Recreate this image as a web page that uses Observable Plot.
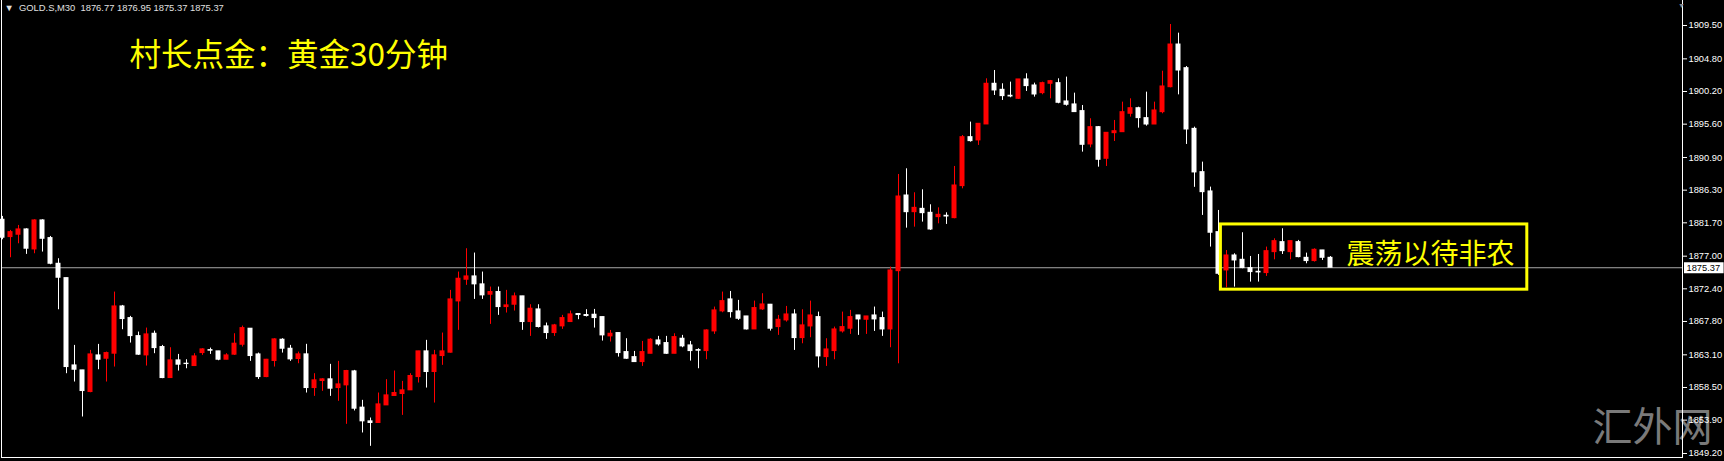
<!DOCTYPE html>
<html>
<head>
<meta charset="utf-8">
<script src="https://cdn.jsdelivr.net/npm/d3@7"></script>
<script src="https://cdn.jsdelivr.net/npm/@observablehq/plot@0.6"></script>
<style>
  html, body { margin: 0; padding: 0; background: #000; }
  #chart { width: 1724px; height: 461px; overflow: hidden; }
  svg { display: block; }
</style>
</head>
<body>
<div id="chart"></div>
<script>
// ---- data: GOLD.S M30 candles (OHLC) ----
const open = [
1882.13,1879.69,1880.02,1880.77,1877.95,1882.04,1879.55,1875.93,1873.91,1861.61,
1860.91,1857.86,1863.02,1862.55,1863.26,1869.92,1868.28,1865.74,1863.02,1866.07,
1864.20,1859.83,1862.32,1861.85,1861.52,1863.35,1863.77,1863.59,1862.41,1863.12,
1864.52,1866.78,1863.16,1859.97,1862.23,1865.23,1863.96,1862.51,1863.17,1858.42,
1859.41,1859.65,1858.42,1858.80,1860.77,1855.66,1853.73,1853.50,1855.98,1857.30,
1857.58,1858.10,1859.97,1863.59,1860.68,1862.93,1863.40,1870.63,1873.68,1874.15,
1873.03,1871.57,1871.95,1869.83,1870.16,1871.34,1867.72,1869.50,1867.11,1866.17,
1867.11,1867.72,1868.85,1868.71,1868.75,1868.42,1865.70,1866.17,1863.49,1862.78,
1862.08,1863.25,1865.13,1864.76,1863.25,1865.37,1864.43,1863.77,1863.63,1866.40,
1869.22,1870.91,1869.22,1868.51,1866.68,1869.50,1870.16,1867.01,1867.95,1868.79,
1865.46,1867.10,1868.42,1862.78,1863.63,1866.40,1866.78,1868.65,1868.04,1868.65,
1868.28,1866.68,1874.89,1885.55,1883.20,1883.67,1883.11,1882.50,1882.69,1882.36,
1886.87,1893.77,1893.31,1895.56,1901.29,1900.44,1899.60,1899.17,1901.90,1901.05,
1899.97,1901.29,1901.38,1898.80,1898.38,1897.44,1892.74,1895.18,1890.72,1894.33,
1894.47,1897.06,1897.85,1896.45,1895.55,1897.29,1900.81,1906.82,1903.49,1894.94,
1888.84,1886.12,1880.39,1874.99,1877.10,1876.49,1875.32,1874.80,1874.62,1877.57,
1878.98,1877.57,1878.98,1876.77,1876.31,1877.81,1876.77
];
const high = [
1882.60,1880.63,1881.33,1880.86,1882.13,1882.13,1879.78,1876.64,1873.91,1864.43,
1860.91,1863.73,1864.57,1863.49,1871.94,1870.06,1868.52,1866.31,1866.87,1866.45,
1864.43,1864.10,1863.16,1862.41,1863.26,1863.96,1864.05,1863.59,1863.26,1866.07,
1867.15,1866.78,1863.35,1862.46,1865.37,1865.37,1864.43,1863.49,1864.58,1860.44,
1859.74,1861.76,1862.18,1860.91,1860.91,1856.69,1854.20,1857.72,1859.60,1860.82,
1859.36,1860.44,1863.59,1865.14,1863.73,1866.17,1872.18,1874.76,1878.05,1877.44,
1874.76,1872.65,1872.65,1872.18,1871.81,1871.34,1870.16,1870.16,1867.58,1867.39,
1868.66,1869.27,1868.85,1869.46,1869.50,1868.42,1866.54,1866.17,1865.37,1863.58,
1864.99,1865.37,1865.70,1865.70,1866.07,1865.84,1864.99,1863.96,1866.63,1869.83,
1871.94,1872.03,1870.77,1868.51,1870.67,1871.71,1870.20,1868.65,1869.92,1869.45,
1869.45,1870.67,1869.12,1865.37,1867.01,1869.12,1869.36,1868.65,1868.51,1869.83,
1869.12,1875.46,1888.51,1889.31,1885.93,1886.35,1884.24,1883.81,1883.11,1889.64,
1894.00,1895.89,1895.65,1901.99,1903.16,1901.29,1901.52,1901.90,1902.70,1901.38,
1901.52,1901.76,1901.99,1902.23,1899.97,1898.23,1896.36,1895.27,1894.38,1896.12,
1898.70,1899.17,1897.99,1900.11,1898.70,1903.06,1909.64,1908.42,1903.72,1895.18,
1890.25,1886.73,1883.44,1877.80,1877.34,1880.30,1876.96,1877.24,1878.28,1879.45,
1880.86,1879.12,1879.22,1877.43,1878.04,1877.81,1876.95
];
const low = [
1879.31,1876.78,1878.75,1877.25,1877.34,1877.58,1875.79,1869.45,1860.44,1859.27,
1854.34,1857.76,1861.00,1859.27,1861.38,1866.64,1864.76,1863.02,1861.52,1863.26,
1859.74,1859.83,1860.82,1861.14,1861.52,1863.02,1863.16,1862.27,1862.41,1863.02,
1864.20,1862.18,1859.64,1859.88,1861.38,1863.35,1862.18,1861.85,1857.72,1857.25,
1857.96,1857.25,1856.55,1853.31,1855.19,1852.09,1850.21,1853.50,1855.98,1857.30,
1854.57,1858.10,1859.13,1858.42,1856.31,1861.62,1863.35,1866.55,1872.89,1870.91,
1870.91,1867.39,1868.66,1868.99,1869.27,1866.55,1865.70,1866.88,1865.28,1865.70,
1866.69,1867.72,1868.05,1868.43,1866.87,1865.04,1864.90,1862.78,1862.46,1862.08,
1861.47,1863.25,1864.33,1863.16,1863.25,1864.10,1862.22,1861.14,1862.41,1865.98,
1869.03,1868.28,1867.95,1866.60,1866.68,1869.36,1866.45,1865.84,1867.71,1863.72,
1864.66,1865.51,1861.24,1861.47,1862.41,1866.17,1865.98,1865.84,1865.98,1866.40,
1865.70,1864.10,1861.84,1880.95,1881.09,1881.80,1880.62,1881.56,1881.47,1882.27,
1886.49,1893.07,1892.60,1895.56,1899.64,1898.94,1899.32,1899.08,1900.21,1899.41,
1899.74,1899.17,1898.47,1898.14,1897.30,1891.66,1892.27,1889.54,1889.64,1893.16,
1894.47,1896.59,1895.04,1895.32,1895.55,1897.06,1900.72,1899.73,1892.74,1886.70,
1882.74,1878.28,1874.29,1872.55,1872.64,1875.23,1873.35,1873.35,1874.15,1876.49,
1877.24,1876.49,1876.77,1875.93,1876.17,1876.40,1875.37
];
const close = [
1879.60,1880.39,1880.77,1878.05,1882.04,1879.45,1875.93,1873.96,1861.38,1861.00,
1858.00,1863.16,1862.41,1863.35,1869.92,1868.14,1865.74,1863.12,1865.98,1864.05,
1859.83,1862.32,1861.71,1861.80,1862.88,1863.87,1863.68,1862.41,1863.02,1864.67,
1866.87,1862.93,1859.97,1862.41,1865.28,1863.96,1862.46,1863.17,1858.42,1859.51,
1859.65,1858.33,1858.94,1860.82,1855.51,1853.73,1853.50,1856.12,1857.39,1857.72,
1858.10,1860.12,1863.59,1860.68,1863.03,1863.59,1870.91,1873.82,1874.15,1873.03,
1871.48,1871.95,1869.83,1870.07,1871.34,1867.72,1869.60,1867.02,1866.17,1867.25,
1868.28,1868.80,1868.71,1868.57,1868.28,1865.84,1866.07,1863.35,1862.55,1862.08,
1863.49,1865.23,1864.57,1863.25,1865.60,1864.29,1863.63,1863.68,1866.54,1869.36,
1870.67,1869.12,1868.18,1866.68,1869.69,1870.20,1866.78,1868.04,1868.79,1865.46,
1867.25,1868.65,1862.88,1863.86,1866.68,1867.01,1868.42,1868.09,1868.51,1868.09,
1866.68,1874.99,1885.41,1883.20,1883.81,1883.06,1880.76,1882.83,1882.59,1886.96,
1893.77,1893.21,1895.65,1901.29,1900.35,1899.55,1899.50,1901.90,1900.96,1899.78,
1901.38,1901.66,1898.61,1898.33,1897.30,1892.69,1895.18,1890.58,1894.38,1894.61,
1897.29,1897.85,1896.45,1895.55,1897.53,1900.91,1906.82,1903.16,1894.85,1888.80,
1886.02,1880.30,1874.52,1877.10,1876.40,1875.32,1874.76,1874.71,1877.71,1879.12,
1877.71,1879.12,1876.87,1876.31,1877.90,1876.77,1875.37
];

// price-axis tick labels (MT4 style)
const priceTicks = [1909.50,1904.80,1900.20,1895.60,1890.90,1886.30,1881.70,
                    1877.00,1872.40,1867.80,1863.10,1858.50,1853.90,1849.20];

// texts
const symbolName = "GOLD.S,M30";
const titleText = "村长点金：黄金30分钟";
const noteText = "震荡以待非农";
const watermark = "汇外网";

// annotation box (candle index range, price range)
const boxIndex = [152.3, 190.6];
const boxPrice = [1872.28, 1881.47];
const notePos = {index: 168, price: 1877.2};

// ---- build ----
const candles = open.map((o, i) => ({
  i, open: o, high: high[i], low: low[i], close: close[i],
  col: close[i] > o ? "#ff0000" : "#ffffff"
}));
const n = candles.length;
const last = candles[n - 1];
const bid = last.close;
const headerText = `▼  ${symbolName}  ${last.open.toFixed(2)} ${last.high.toFixed(2)} ${last.low.toFixed(2)} ${last.close.toFixed(2)}`;

const YELLOW = "#ffff00";
const half = 0.3125;
const AXIS_FONT = 9.3;

const chart = Plot.plot({
  width: 1724,
  height: 461,
  marginLeft: 1,
  marginRight: 42,
  marginTop: 0,
  marginBottom: 4,
  style: {background: "#000", color: "#fff", fontFamily: "'Liberation Sans', 'DejaVu Sans', sans-serif"},
  x: {domain: [-0.125, 210], axis: null},
  y: {domain: [1848.636, 1913.022], axis: null},
  color: {type: "identity"},
  marks: [
    // current bid line
    Plot.ruleY([bid], {stroke: "#a8a8a8", strokeWidth: 1}),
    // wicks
    Plot.ruleX(candles, {x: "i", y1: "low", y2: "high", stroke: "col", strokeWidth: 1}),
    // bodies
    Plot.rect(candles, {
      x1: d => d.i - half, x2: d => d.i + half,
      y1: d => Math.min(d.open, d.close), y2: d => Math.max(d.open, d.close),
      fill: "col", insetTop: -0.5, insetBottom: -0.5
    }),
    // annotation box + note
    Plot.rect([0], {x1: () => boxIndex[0], x2: () => boxIndex[1], y1: () => boxPrice[0], y2: () => boxPrice[1],
      fill: "none", stroke: YELLOW, strokeWidth: 3}),
    Plot.text([noteText], {x: () => notePos.index, y: () => notePos.price, text: d => d,
      textAnchor: "start", lineAnchor: "middle", fill: YELLOW, fontSize: 28,
      fontFamily: "'Noto Sans CJK SC', sans-serif"}),
    // watermark (behind axis labels)
    Plot.text([watermark], {frameAnchor: "bottom-right", dx: -30, dy: -29, textAnchor: "middle", lineAnchor: "middle",
      fill: "#7a7a7a", fontSize: 40, letterSpacing: 2,
      fontFamily: "'Noto Sans CJK SC', sans-serif"}),
    // frame lines
    Plot.frame({anchor: "left", stroke: "#fff"}),
    Plot.frame({anchor: "right", stroke: "#fff"}),
    Plot.frame({anchor: "bottom", stroke: "#fff"}),
    // price axis
    Plot.axisY(priceTicks, {anchor: "right", tickSize: 4, tickPadding: 2, fontSize: AXIS_FONT,
      tickFormat: d => d.toFixed(2), stroke: "#fff", fill: "#fff"}),
    // current price tag
    Plot.ruleY([bid], {x1: 210.25, x2: 215.2, stroke: "#fff", strokeWidth: 11}),
    Plot.text([bid], {x: 210.5, y: d => d, text: d => d.toFixed(2), textAnchor: "start",
      fill: "#000", fontSize: AXIS_FONT}),
    // header
    Plot.text([headerText], {frameAnchor: "top-left", dx: 3, dy: 4, lineAnchor: "top", textAnchor: "start",
      fill: "#e0e0e0", fontSize: 9.4}),
    Plot.text(["▼"], {frameAnchor: "top-right", dx: -1, dy: 3, lineAnchor: "top", textAnchor: "middle",
      fill: "#8c8c8c", fontSize: 7}),
    // title
    Plot.text([titleText], {frameAnchor: "top-left", dx: 128, dy: 55, lineAnchor: "middle", textAnchor: "start",
      fill: YELLOW, fontSize: 31.5, fontFamily: "'Noto Sans CJK SC', sans-serif"})
  ]
});
document.getElementById("chart").appendChild(chart);
</script>
</body>
</html>
